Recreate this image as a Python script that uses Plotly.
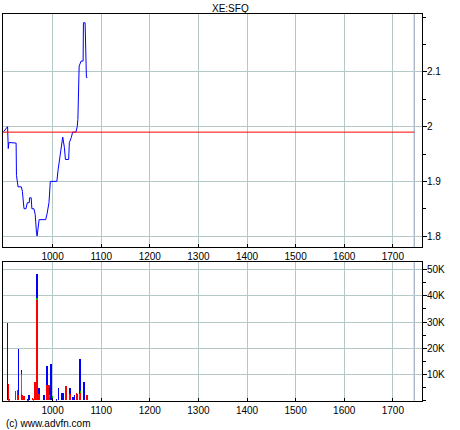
import plotly.graph_objects as go

# ---- data ----
title_text = "XE:SFQ"
footer_text = "(c) www.advfn.com"
ref_price = 1.99          # previous close (red line)
session_end = 1744        # vertical marker line

price_t = [899.3, 907.4, 908.8, 910.1, 925, 925.7, 929, 935.8, 937.8, 941.2, 945.3, 948, 952,
           952.7, 956, 957.4, 961.5, 964.2, 966.9, 968.2, 972.3, 985.8, 988.5, 992.6, 995.3,
           1008.8, 1011.5, 1014.2, 1018.2, 1020.9, 1024.3, 1026.4, 1033.1, 1034.5, 1038.5,
           1041.2, 1048, 1050.7, 1052, 1054.7, 1058.8, 1062.8, 1063.5, 1066.9, 1069.6, 1071.6]
price_v = [1.991, 2.00, 1.96, 1.971, 1.97, 1.911, 1.89, 1.89, 1.882, 1.85, 1.85, 1.861, 1.861,
           1.87, 1.87, 1.85, 1.85, 1.84, 1.806, 1.80, 1.83, 1.83, 1.84, 1.861, 1.90,
           1.90, 1.922, 1.94, 1.971, 1.981, 1.962, 1.94, 1.94, 1.971, 1.98,
           1.99, 1.99, 2.00, 2.013, 2.111, 2.12, 2.12, 2.19, 2.19, 2.09, 2.09]

vol_t = [907, 908.5, 910, 924, 929, 930, 936, 938, 941, 949, 951, 959, 961, 964, 968, 972, 982,
         989, 992, 995, 997, 1000, 1008, 1012, 1018, 1022, 1028, 1036, 1042, 1045, 1049, 1051,
         1055, 1057, 1065, 1071]
vol_red = [0, 6200, 500, 3500, 3900, 2000, 2500, 2000, 1500, 0, 0, 800, 500, 7000, 38400, 2600, 0,
           5800, 5800, 1500, 0, 1000, 0, 0, 0, 0, 5400, 2600, 0, 0, 3000, 2600,
           2000, 3000, 0, 2000]
vol_green = [0, 0, 0, 0, 0, 0, 7400, 0, 0, 0, 0, 0, 0, 0, 700, 0, 0,
             0, 0, 500, 0, 800, 0, 0, 0, 0, 0, 0, 0, 0, 0, 0,
             500, 500, 0, 0]
vol_blue = [29700, 0, 0, 0, 0, 17700, 1600, 0, 0, 700, 2000, 0, 0, 0, 9200, 2300, 2000,
            7400, 0, 2600, 13800, 0, 700, 4900, 3000, 3000, 0, 2300, 1300, 2000, 0, 0,
            6500, 12200, 7000, 0]

x_ticks = [1000, 1100, 1200, 1300, 1400, 1500, 1600, 1700]
price_ticks = [1.8, 1.9, 2.0, 2.1]
price_tick_text = ["1.8", "1.9", "2", "2.1"]
vol_ticks = [10000, 20000, 30000, 40000, 50000]
vol_tick_text = ["10K", "20K", "30K", "40K", "50K"]

# ---- figure ----
W, H = 460, 430
font = "Liberation Sans, Arial, sans-serif"
grid_col = "#b4c8c8"

fig = go.Figure()
fig.add_trace(go.Scatter(x=price_t, y=price_v, mode="lines",
                         line=dict(color="#0000ff", width=1), xaxis="x", yaxis="y",
                         showlegend=False, hoverinfo="skip"))
for vals, col in [(vol_red, "#ff0000"), (vol_green, "#00c000"), (vol_blue, "#0000ff")]:
    fig.add_trace(go.Bar(x=vol_t, y=vals, marker=dict(color=col, line=dict(width=0)),
                         width=1.3, xaxis="x2", yaxis="y2", showlegend=False,
                         hoverinfo="skip"))

xd = [3 / W, 422 / W]
top_dom = [(H - 247) / H, (H - 14) / H]
bot_dom = [(H - 400.7) / H, (H - 262.3) / H]
xr = [898, 1760]

xcommon = dict(range=xr, tickvals=x_ticks, showgrid=True, gridcolor=grid_col, gridwidth=1,
               showline=True, linecolor="black", linewidth=1, mirror=True,
               ticks="inside", ticklen=3, tickcolor="black", zeroline=False,
               tickfont=dict(family=font, size=10, color="black"), domain=xd, fixedrange=True)

ycommon = dict(side="right", showgrid=True, gridcolor=grid_col, zeroline=False,
               showline=True, linecolor="black", linewidth=1, mirror=True,
               ticks="outside", ticklen=4, tickcolor="black", ticklabelstandoff=-2,
               tickfont=dict(family=font, size=10, color="black"), fixedrange=True)

fig.update_layout(
    width=W, height=H, margin=dict(l=0, r=0, t=0, b=0),
    paper_bgcolor="white", plot_bgcolor="white",
    barmode="stack", bargap=0,
    xaxis=dict(anchor="y", **xcommon),
    xaxis2=dict(anchor="y2", matches="x", **xcommon),
    yaxis=dict(domain=top_dom, range=[1.78, 2.206], anchor="x",
               tickvals=price_ticks, ticktext=price_tick_text,
               minor=dict(dtick=0.05, tick0=1.8, ticks="outside", ticklen=3,
                          tickcolor="black", showgrid=False),
               **ycommon),
    yaxis2=dict(domain=bot_dom, range=[0, 52800], anchor="x2",
                tickvals=vol_ticks, ticktext=vol_tick_text,
                minor=dict(dtick=5000, tick0=0, ticks="outside", ticklen=3,
                           tickcolor="black", showgrid=False),
                **ycommon),
    annotations=[
        dict(text=title_text, x=230 / W, y=(H - 8) / H, xref="paper", yref="paper",
             showarrow=False, xanchor="center", yanchor="middle",
             font=dict(family=font, size=10, color="black")),
        dict(text=footer_text, x=4 / W, y=(H - 423) / H, xref="paper", yref="paper",
             showarrow=False, xanchor="left", yanchor="middle",
             font=dict(family=font, size=10, color="black")),
    ],
)

# reference price line and session-end marker
fig.add_shape(type="line", xref="x", yref="y", x0=xr[0], x1=session_end,
              y0=ref_price, y1=ref_price, line=dict(color="#ff0000", width=1))
for yr in ["y domain", "y2 domain"]:
    fig.add_shape(type="line", xref="x", yref=yr, x0=session_end, x1=session_end,
                  y0=0, y1=1, line=dict(color="#8a9cb0", width=1), layer="below")

fig.write_html("out.html", config={"displayModeBar": False},
               post_script="document.body.style.margin='0';")
